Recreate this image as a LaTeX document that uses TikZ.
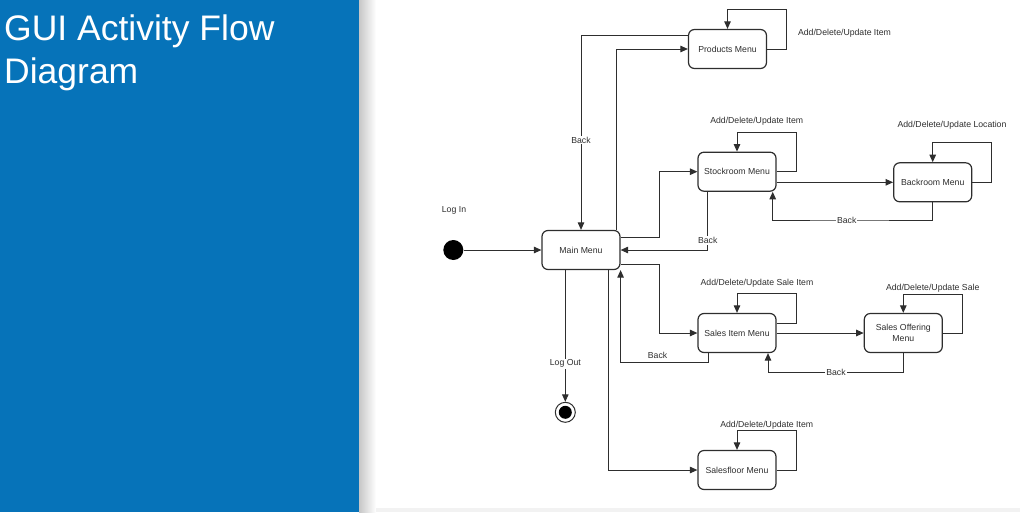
\documentclass[tikz,border=0pt]{standalone}
\usepackage{fontspec}
\setmainfont{Liberation Sans}
\usetikzlibrary{arrows.meta,positioning,shapes.misc}
\definecolor{panelblue}{HTML}{0673B9}
\definecolor{ink}{HTML}{2E2E2E}
\newcommand{\diagfont}{\fontsize{8.7}{10.4}\selectfont}
\tikzset{
  menu/.style={draw=ink, line width=1.2pt, rounded corners=6pt, minimum width=78pt,
    minimum height=39pt, align=center, font=\diagfont, text=ink},
  flow/.style={draw=ink, line width=1pt, -{Triangle[length=7.5pt,width=6.5pt]}},
  lbl/.style={fill=white, inner sep=1pt, font=\diagfont, text=ink},
  note/.style={inner sep=0pt, font=\diagfont, text=ink}
}
\begin{document}
\begin{tikzpicture}[x=1pt,y=-1pt]
\useasboundingbox (0,0) rectangle (1020,512);
\fill[panelblue] (0,0) rectangle (359,512);
\shade[left color=black!22, right color=white] (359,0) rectangle (376,512);
\fill[black!5] (376,508) rectangle (1020,512);
\node (title) [anchor=base west, align=left, text=white, inner sep=0pt,
  font=\fontsize{35.5}{42.5}\selectfont] at (4,83) {GUI Activity Flow\\Diagram};
\node (start) [circle, fill=black, minimum size=20pt, inner sep=0pt] at (453.3,250) {};
\node (login) [note] at (454,210) {Log In};
\node (main) [menu] at (581,250) {Main Menu};
\node (prod) [menu] at (727.5,49) {Products Menu};
\node (stock) [menu] at (737,171.7) {Stockroom Menu};
\node (back) [menu] at (932.7,182.3) {Backroom Menu};
\node (sitem) [menu] at (737,333) {Sales Item Menu};
\node (soff) [menu] at (903.3,333) {Sales Offering\\Menu};
\node (sfloor) [menu] at (737,470) {Salesfloor Menu};
\node (stop) [circle, draw=ink, line width=1pt, minimum size=20pt, inner sep=0pt] at (565.3,412.3) {};
\fill[black] (stop) circle (6.5pt);
\node (prodnote) [note] at (844.5,33.3) {Add/Delete/Update Item};
\node (stocknote) [note] at (756.7,121.7) {Add/Delete/Update Item};
\node (backnote) [note] at (952,125.7) {Add/Delete/Update Location};
\node (sitemnote) [note] at (757,283) {Add/Delete/Update Sale Item};
\node (soffnote) [note] at (932.7,288) {Add/Delete/Update Sale};
\node (sfloornote) [note] at (766.7,425) {Add/Delete/Update Item};
\draw[flow] (start) -- (main.west);
\draw[flow] ([xshift=35pt]main.north) |- (prod.west);
\draw[flow] ([yshift=14pt]prod.west) -| node[lbl, pos=0.77] {Back} (main.north);
\draw[flow] (prod.east) -- (786.7,49) |- (prod.north |- 0,9.3) -- (prod.north);
\draw[flow] ([yshift=12.7pt]main.east) -- ++(38.7,0) |- (stock.west);
\draw[flow] ([xshift=-29.3pt]stock.south) |- node[lbl, pos=0.42] {Back} (main.east);
\draw[flow] (stock.east) -- (796.3,171.7) |- (stock.north |- 0,132) -- (stock.north);
\draw[flow] (stock.east |- back.west) -- (back.west);
\draw[flow] (back.south) |- (846.7,220) node[lbl] {Back} -| ([xshift=35.7pt]stock.south);
\draw[flow] (back.east) -- (991.7,182.3) |- (back.north |- 0,142.3) -- (back.north);
\draw[flow] ([yshift=-14.7pt]main.east) -- ++(38.7,0) |- (sitem.west);
\draw[flow] ([xshift=-28.3pt]sitem.south) |- node[note, pos=0.79, above=4pt] {Back}
  ([yshift=-92.7pt]main.south east) -- (main.south east);
\draw[flow] ([yshift=9.7pt]sitem.east) -- (796.3,323.3) |- (sitem.north |- 0,293.3) -- (sitem.north);
\draw[flow] (sitem.east) -- (soff.west);
\draw[flow] (soff.south) |- (836,372.7) node[lbl] {Back} -| ([xshift=31pt]sitem.south);
\draw[flow] (soff.east) -- (962.7,333) |- (soff.north |- 0,294) -- (soff.north);
\draw[flow] (main.south -| stop.north) -- node[lbl, pos=0.71] {Log Out} (stop.north);
\draw[flow] ([xshift=27.3pt]main.south) |- (sfloor.west);
\draw[flow] (sfloor.east) -- (796.3,470) |- (sfloor.north |- 0,430.7) -- (sfloor.north);
\end{tikzpicture}
\end{document}
